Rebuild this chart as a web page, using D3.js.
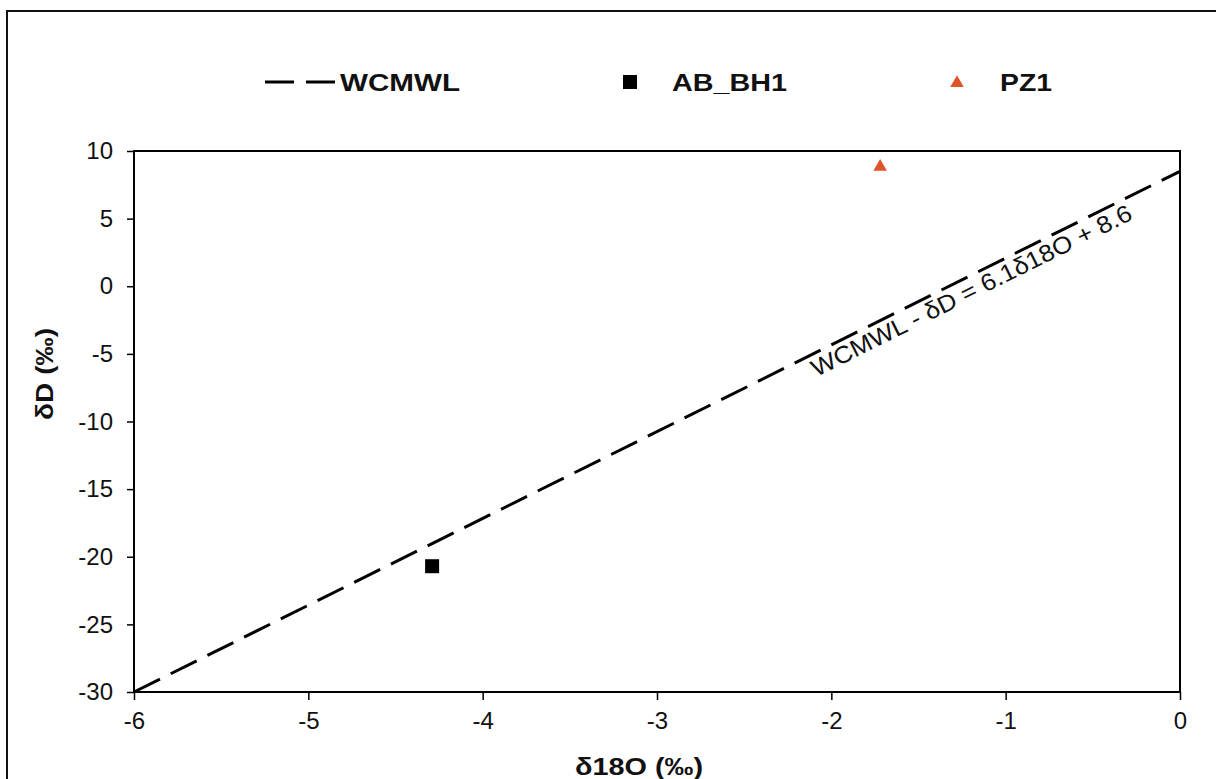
<!DOCTYPE html>
<html>
<head>
<meta charset="utf-8">
<script src="https://cdn.jsdelivr.net/npm/d3@7.9.0/dist/d3.min.js"></script>
<style>
  body { margin: 0; background: #fff; }
  svg { display: block; font-family: "Liberation Sans", Arial, sans-serif; }
</style>
</head>
<body>
<svg id="chart" width="1216" height="779"></svg>
<script>
// ---- data ----
const xTicks = [-6, -5, -4, -3, -2, -1, 0];
const yTicks = [10, 5, 0, -5, -10, -15, -20, -25, -30];
// meteoric water line end points (δ18O, δD)
const lineX = [-6, 0];
const lineY = [-30, 8.5];
// samples
const sampleNames = ['AB_BH1', 'PZ1'];
const sampleX = [-4.29, -1.72];
const sampleY = [-20.7, 8.9];
const lineLabel = 'WCMWL - δD = 6.1δ18O + 8.6';

// ---- layout ----
const svg = d3.select('#chart');
const margin = { left: 134, top: 151, right: 1180, bottom: 692 };
const ink = '#111';

const x = d3.scaleLinear().domain([-6, 0]).range([margin.left, margin.right]);
const y = d3.scaleLinear().domain([-30, 10]).range([margin.bottom, margin.top]);

// outer chart border (runs off right/bottom edge like the source)
svg.append('rect')
  .attr('x', 7).attr('y', 11)
  .attr('width', 1230).attr('height', 800)
  .attr('fill', 'none').attr('stroke', ink).attr('stroke-width', 2);

// plot frame
svg.append('rect')
  .attr('x', margin.left).attr('y', margin.top)
  .attr('width', margin.right - margin.left)
  .attr('height', margin.bottom - margin.top)
  .attr('fill', 'none').attr('stroke', '#000').attr('stroke-width', 2);

// axes (plain hyphen for negatives, like the source)
const fmt = d => String(d);
const xAxis = svg.append('g')
  .attr('transform', `translate(0,${margin.bottom})`)
  .call(d3.axisBottom(x).tickValues(xTicks).tickSize(8).tickPadding(12).tickFormat(fmt));
const yAxis = svg.append('g')
  .attr('transform', `translate(${margin.left},0)`)
  .call(d3.axisLeft(y).tickValues(yTicks).tickSize(7).tickPadding(14).tickFormat(fmt));

[xAxis, yAxis].forEach(g => {
  g.select('.domain').remove();
  g.selectAll('line').attr('stroke', '#000').attr('stroke-width', 1.5);
  g.selectAll('text')
    .attr('fill', ink)
    .style('font-size', '24px')
    .style('font-family', '"Liberation Sans", Arial, sans-serif');
});

// regression line
svg.append('line')
  .attr('x1', x(lineX[0])).attr('y1', y(lineY[0]))
  .attr('x2', x(lineX[1])).attr('y2', y(lineY[1]))
  .attr('stroke', '#000')
  .attr('stroke-width', 3)
  .attr('stroke-dasharray', '29,12');

// label along the line, sitting just under it
svg.append('text')
  .attr('transform', `translate(975,298) rotate(-26.5)`)
  .attr('text-anchor', 'middle')
  .attr('textLength', 355)
  .attr('lengthAdjust', 'spacingAndGlyphs')
  .style('font-size', '24px')
  .attr('fill', ink)
  .text(lineLabel);

// samples
svg.append('rect')
  .attr('x', x(sampleX[0]) - 7).attr('y', y(sampleY[0]) - 7)
  .attr('width', 14).attr('height', 14)
  .attr('fill', '#000');

svg.append('path')
  .attr('d', d3.symbol().type(d3.symbolTriangle).size(80)())
  .attr('transform', `translate(${x(sampleX[1])},${y(sampleY[1]) + 1})`)
  .attr('fill', '#e0522a');

// legend
const legY = 82;
const legendText = (tx, label, len) => svg.append('text')
  .attr('x', tx).attr('y', legY + 9)
  .attr('textLength', len).attr('lengthAdjust', 'spacingAndGlyphs')
  .style('font-size', '24px').style('font-weight', 'bold').attr('fill', ink)
  .text(label);

svg.append('line')
  .attr('x1', 265).attr('x2', 336).attr('y1', legY).attr('y2', legY)
  .attr('stroke', '#000').attr('stroke-width', 3)
  .attr('stroke-dasharray', '29,12');
legendText(340, 'WCMWL', 120);

svg.append('rect').attr('x', 623).attr('y', legY - 7)
  .attr('width', 14).attr('height', 14).attr('fill', '#000');
legendText(672, sampleNames[0], 115);

svg.append('path')
  .attr('d', d3.symbol().type(d3.symbolTriangle).size(80)())
  .attr('transform', `translate(957,${legY + 1})`)
  .attr('fill', '#e0522a');
legendText(1000, sampleNames[1], 52);

// axis titles
svg.append('text')
  .attr('x', 639).attr('y', 775)
  .attr('text-anchor', 'middle')
  .attr('textLength', 128).attr('lengthAdjust', 'spacingAndGlyphs')
  .style('font-size', '24px').style('font-weight', 'bold').attr('fill', ink)
  .text('δ18O (‰)');

svg.append('text')
  .attr('transform', `translate(53,374) rotate(-90)`)
  .attr('text-anchor', 'middle')
  .attr('textLength', 92).attr('lengthAdjust', 'spacingAndGlyphs')
  .style('font-size', '24px').style('font-weight', 'bold').attr('fill', ink)
  .text('δD (‰)');
</script>
</body>
</html>
